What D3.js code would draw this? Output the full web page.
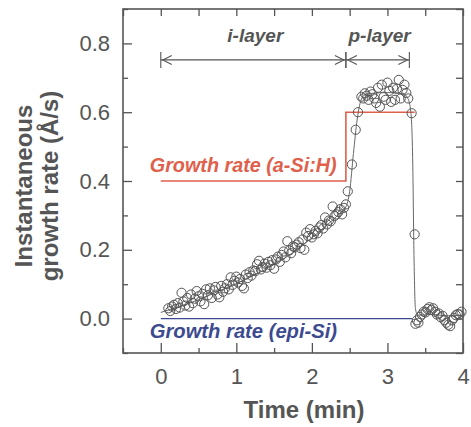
<!DOCTYPE html>
<html>
<head>
<meta charset="utf-8">
<script src="https://cdn.jsdelivr.net/npm/d3@7"></script>
<style>
  html, body { margin: 0; padding: 0; background: #fff; }
  svg { display: block; font-family: "Liberation Sans", Arial, Helvetica, sans-serif; }
</style>
</head>
<body>
<svg id="chart" width="471" height="427"></svg>
<script>
// Measured instantaneous growth rate (Å/s) versus time (min)
const timeMin = [
  0.100,0.125,0.150,0.175,0.200,0.225,0.250,0.275,0.300,0.325,0.350,0.375,0.400,0.425,0.450,0.475,
  0.500,0.525,0.550,0.575,0.600,0.625,0.650,0.675,0.700,0.725,0.750,0.775,0.800,0.825,0.850,0.875,
  0.900,0.925,0.950,0.975,1.000,1.025,1.050,1.075,1.100,1.125,1.150,1.175,1.200,1.225,1.250,1.275,
  1.300,1.325,1.350,1.375,1.400,1.425,1.450,1.475,1.500,1.525,1.550,1.575,1.600,1.625,1.650,1.675,
  1.700,1.725,1.750,1.775,1.800,1.825,1.850,1.875,1.900,1.925,1.950,1.975,2.000,2.025,2.050,2.075,
  2.100,2.125,2.150,2.175,2.200,2.225,2.250,2.275,2.300,2.325,2.350,2.375,2.400,2.425,2.450,
  2.475,2.530,2.580,2.610,2.655,2.680,
  2.700,2.725,2.750,2.775,2.800,2.825,2.850,2.875,2.900,2.925,2.950,2.975,3.000,3.025,3.050,3.075,
  3.100,3.125,3.150,3.175,3.200,3.225,3.250,3.275,3.320,3.360,
  3.370,3.390,3.410,3.430,3.455,3.480,3.505,3.530,3.555,3.580,3.605,3.630,3.655,3.680,3.705,3.730,
  3.755,3.780,3.805,3.830,3.855,3.880,3.905,3.930,3.955,3.980
];
const rateMeasured = [
  0.030,0.022,0.035,0.040,0.028,0.045,0.032,0.075,0.050,0.038,0.060,0.035,0.070,0.045,0.058,0.080,
  0.065,0.050,0.072,0.042,0.085,0.068,0.088,0.060,0.082,0.092,0.070,0.062,0.095,0.078,0.088,0.100,
  0.085,0.120,0.098,0.110,0.122,0.105,0.115,0.095,0.088,0.128,0.118,0.135,0.125,0.140,0.138,0.158,
  0.168,0.143,0.150,0.160,0.148,0.165,0.155,0.170,0.145,0.172,0.180,0.165,0.185,0.195,0.178,0.225,
  0.198,0.190,0.210,0.207,0.215,0.222,0.205,0.230,0.200,0.250,0.240,0.260,0.236,0.245,0.255,0.248,
  0.265,0.272,0.262,0.294,0.274,0.285,0.283,0.326,0.298,0.303,0.310,0.318,0.303,0.322,0.332,
  0.370,0.448,0.549,0.600,0.645,0.640,
  0.655,0.648,0.636,0.660,0.652,0.640,0.627,0.671,0.616,0.680,0.645,0.636,0.686,0.662,0.630,0.671,
  0.636,0.668,0.694,0.640,0.665,0.680,0.656,0.640,0.597,0.245,
  -0.015,-0.005,-0.012,0.005,0.012,0.020,0.018,0.028,0.033,0.025,0.030,0.020,0.012,0.015,0.004,0.008,
  -0.005,-0.012,-0.018,-0.022,-0.005,0.002,0.010,0.013,0.012,0.020
];

// Smooth guide curve through the measurements
const fitTime = [0, 0.25, 0.5, 0.75, 1.0, 1.25, 1.5, 1.75, 2.0, 2.2, 2.35, 2.45, 2.5, 2.55, 2.6, 2.65, 2.7, 2.8, 3.0, 3.2, 3.27, 3.31, 3.335, 3.35, 3.37, 3.4, 3.6, 3.8, 4.0];
const fitRate = [0.018, 0.035, 0.055, 0.078, 0.102, 0.128, 0.157, 0.192, 0.235, 0.272, 0.302, 0.325, 0.37, 0.48, 0.58, 0.635, 0.65, 0.655, 0.657, 0.655, 0.64, 0.60, 0.45, 0.20, 0.03, 0.01, 0.012, 0.008, 0.01];

// Reference growth rates
const aSiTime = [0, 2.45, 2.45, 3.36];
const aSiRate = [0.4, 0.4, 0.6, 0.6];
const epiTime = [0, 3.33];
const epiRate = [0, 0];

// Layer spans
const layerNames = ["i-layer", "p-layer"];
const layerStart = [0, 2.45];
const layerEnd = [2.45, 3.29];
const layerArrowRate = 0.752;

const xMajorTicks = [0, 1, 2, 3, 4];
const xMinorTicks = [-0.5, 0.5, 1.5, 2.5, 3.5];
const yMajorTicks = [0.0, 0.2, 0.4, 0.6, 0.8];
const yMinorTicks = [-0.1, 0.1, 0.3, 0.5, 0.7, 0.9];
const yAllTicks = [-0.1, 0.0, 0.1, 0.2, 0.3, 0.4, 0.5, 0.6, 0.7, 0.8, 0.9];
const xAllTicks = [-0.5, 0, 0.5, 1, 1.5, 2, 2.5, 3, 3.5, 4];

const grey = "#555";
const redCol = "#e0604c";
const blueCol = "#3c4a90";

const svg = d3.select("#chart");
const L = 123, R = 463, T = 9, B = 353;

const x = d3.scaleLinear().domain([-0.5, 4]).range([L, R]);
const y = d3.scaleLinear().domain([-0.1, 0.9]).range([B, T]);

// Axes (ticks pointing inward)
function styleAxis(g) {
  g.select(".domain").remove();
  g.selectAll(".tick line").attr("stroke", grey).attr("stroke-width", 1.3);
  g.selectAll(".tick text").attr("fill", grey).attr("font-size", 22);
}
svg.append("g").attr("transform", `translate(0,${B})`)
  .call(d3.axisBottom(x).tickValues(xMajorTicks).tickSize(-10).tickPadding(15).tickFormat(d3.format("d")))
  .call(styleAxis);
svg.append("g").attr("transform", `translate(0,${B})`)
  .call(d3.axisBottom(x).tickValues(xMinorTicks).tickSize(-5).tickFormat(""))
  .call(styleAxis);
svg.append("g").attr("transform", `translate(${L},0)`)
  .call(d3.axisLeft(y).tickValues(yMajorTicks).tickSize(-9).tickPadding(13).tickFormat(d3.format(".1f")))
  .call(styleAxis);
svg.append("g").attr("transform", `translate(${L},0)`)
  .call(d3.axisLeft(y).tickValues(yMinorTicks).tickSize(-5).tickFormat(""))
  .call(styleAxis);
svg.append("g").attr("transform", `translate(0,${T})`)
  .call(d3.axisTop(x).tickValues(xAllTicks).tickSize(-7).tickFormat(""))
  .call(styleAxis);
svg.append("g").attr("transform", `translate(${R},0)`)
  .call(d3.axisRight(y).tickValues(yAllTicks).tickSize(-7).tickFormat(""))
  .call(styleAxis);

// Frame
svg.append("rect").attr("x", L).attr("y", T).attr("width", R - L).attr("height", B - T)
  .attr("fill", "none").attr("stroke", grey).attr("stroke-width", 1.6);

// Axis titles
svg.append("text").attr("x", 304).attr("y", 418).attr("text-anchor", "middle")
  .attr("font-size", 24).attr("font-weight", "bold").attr("fill", grey).text("Time (min)");
svg.append("text").attr("transform", "translate(32,186) rotate(-90)").attr("text-anchor", "middle")
  .attr("font-size", 24).attr("font-weight", "bold").attr("fill", grey).text("Instantaneous");
svg.append("text").attr("transform", "translate(58,186) rotate(-90)").attr("text-anchor", "middle")
  .attr("font-size", 24).attr("font-weight", "bold").attr("fill", grey).text("growth rate (Å/s)");

const line = d3.line().x(d => x(d[0])).y(d => y(d[1]));

// Reference rate lines
svg.append("path").datum(d3.zip(aSiTime, aSiRate)).attr("d", line)
  .attr("fill", "none").attr("stroke", redCol).attr("stroke-width", 1.6);
svg.append("path").datum(d3.zip(epiTime, epiRate)).attr("d", line)
  .attr("fill", "none").attr("stroke", blueCol).attr("stroke-width", 1.3);

// Guide curve
svg.append("path").datum(d3.zip(fitTime, fitRate))
  .attr("d", d3.line().x(d => x(d[0])).y(d => y(d[1])).curve(d3.curveMonotoneX))
  .attr("fill", "none").attr("stroke", "#666").attr("stroke-width", 1);

// Measured points
svg.append("g").selectAll("circle").data(d3.zip(timeMin, rateMeasured)).join("circle")
  .attr("cx", d => x(d[0])).attr("cy", d => y(d[1])).attr("r", 4.6)
  .attr("fill", "none").attr("stroke", "#555").attr("stroke-width", 1);

// Reference rate labels
svg.append("text").attr("x", x(0) - 11).attr("y", y(0.4) - 9)
  .attr("font-size", 19.8).attr("font-weight", "bold").attr("font-style", "italic")
  .attr("fill", redCol).text("Growth rate (a-Si:H)");
svg.append("text").attr("x", x(0) - 11).attr("y", y(0) + 19)
  .attr("font-size", 20.2).attr("font-weight", "bold").attr("font-style", "italic")
  .attr("fill", blueCol).text("Growth rate (epi-Si)");

// Layer span arrows
const ay = y(layerArrowRate);
const ag = svg.append("g").attr("stroke", grey).attr("stroke-width", 1.1).attr("fill", "none");
layerNames.forEach((name, i) => {
  const x0 = x(layerStart[i]), x1 = x(layerEnd[i]);
  ag.append("line").attr("x1", x0).attr("x2", x1).attr("y1", ay).attr("y2", ay);
  ag.append("line").attr("x1", x0).attr("x2", x0).attr("y1", ay - 8).attr("y2", ay + 8);
  ag.append("line").attr("x1", x1).attr("x2", x1).attr("y1", ay - 8).attr("y2", ay + 8);
  ag.append("path").attr("d", `M${x0 + 11},${ay - 4.5}L${x0 + 2},${ay}L${x0 + 11},${ay + 4.5}`);
  ag.append("path").attr("d", `M${x1 - 11},${ay - 4.5}L${x1 - 2},${ay}L${x1 - 11},${ay + 4.5}`);
  svg.append("text").attr("x", (x0 + x1) / 2 + 2).attr("y", ay - 18).attr("text-anchor", "middle")
    .attr("font-size", 19).attr("font-weight", "bold").attr("font-style", "italic")
    .attr("fill", grey).text(name);
});
</script>
</body>
</html>
